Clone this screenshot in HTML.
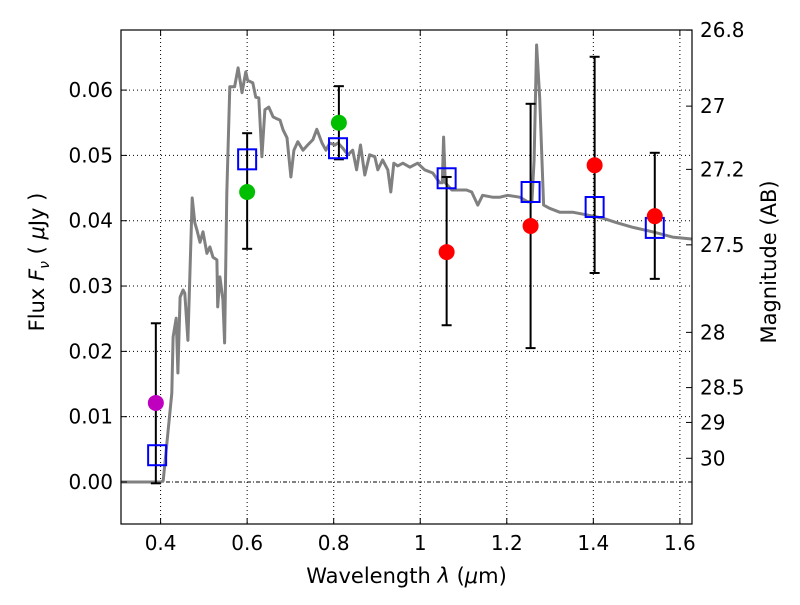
<!DOCTYPE html>
<html><head><meta charset="utf-8"><style>
body{margin:0;background:#fff;}
svg text{font-family:"DejaVu Sans","Liberation Sans",sans-serif;fill:#000;}
</style></head><body>
<svg id="chart" width="800" height="600" xmlns="http://www.w3.org/2000/svg">
<g id="grid"></g>
<g id="spec"></g>
<g id="marks"></g>
<g id="axes"></g>
</svg>
<script>
const xTicks = [0.4,0.6,0.8,1.0,1.2,1.4,1.6];
const xTickLabels = ["0.4","0.6","0.8","1","1.2","1.4","1.6"];
const yTicks = [0,0.01,0.02,0.03,0.04,0.05,0.06];
const yTickLabels = ["0.00","0.01","0.02","0.03","0.04","0.05","0.06"];
const magTicks = [26.8,27,27.2,27.5,28,28.5,29,30];
const magTickLabels = ["26.8","27","27.2","27.5","28","28.5","29","30"];
const specWave = [0.309,0.401,0.406,0.426,0.429,0.436,0.440,0.445,0.452,0.456,0.463,0.473,0.479,0.484,0.491,0.498,0.507,0.514,0.521,0.530,0.532,0.537,0.544,0.548,0.553,0.560,0.571,0.579,0.588,0.597,0.601,0.613,0.620,0.627,0.634,0.641,0.650,0.660,0.666,0.676,0.683,0.692,0.701,0.708,0.717,0.729,0.740,0.752,0.761,0.773,0.782,0.791,0.803,0.810,0.821,0.833,0.844,0.853,0.862,0.872,0.883,0.895,0.902,0.913,0.925,0.932,0.939,0.948,0.960,0.976,0.994,1.010,1.029,1.045,1.051,1.054,1.058,1.073,1.084,1.107,1.119,1.133,1.144,1.167,1.184,1.202,1.230,1.248,1.258,1.263,1.269,1.276,1.285,1.299,1.322,1.352,1.384,1.421,1.454,1.491,1.537,1.583,1.627];
const specFlux = [0,0,0.0002,0.0136,0.0222,0.0251,0.0167,0.0283,0.0294,0.0289,0.0217,0.0435,0.0397,0.0386,0.0367,0.0383,0.0350,0.0360,0.0344,0.0340,0.0268,0.0314,0.0279,0.0213,0.0442,0.0605,0.0605,0.0634,0.0596,0.0628,0.0615,0.0611,0.0589,0.0588,0.0498,0.0570,0.0574,0.0559,0.0557,0.0554,0.0539,0.0527,0.0467,0.0508,0.0521,0.0508,0.0516,0.0524,0.0540,0.0519,0.0508,0.0519,0.0516,0.0519,0.0511,0.0501,0.0508,0.0478,0.0516,0.0470,0.0501,0.0498,0.0478,0.0493,0.0478,0.0444,0.0488,0.0484,0.0488,0.0482,0.0488,0.0478,0.0473,0.0458,0.0458,0.0528,0.0458,0.0447,0.0447,0.0447,0.0444,0.0424,0.0439,0.0436,0.0436,0.0439,0.0436,0.0429,0.0429,0.0493,0.0669,0.0588,0.0424,0.0419,0.0413,0.0413,0.0409,0.0404,0.0397,0.0390,0.0383,0.0375,0.0372];
const obsWave = [0.389,0.600,0.812,1.061,1.255,1.403,1.542];
const obsFlux = [0.0121,0.0444,0.0550,0.0352,0.0392,0.0485,0.0407];
const obsErrHi = [0.0243,0.0534,0.0606,0.0467,0.0579,0.0651,0.0504];
const obsErrLo = [-0.0002,0.0357,0.0494,0.0240,0.0205,0.0320,0.0311];
const obsColor = ["#bf00bf","#00bf00","#00bf00","#ff0000","#ff0000","#ff0000","#ff0000"];
const modelWave = [0.392,0.600,0.810,1.061,1.255,1.403,1.542];
const modelFlux = [0.0041,0.0494,0.0511,0.0465,0.0444,0.0421,0.0389];

const L=121,R=692,T=30,B=524;
const xMin=0.3085,xMax=1.628,yMin=-0.00643,yMax=0.0692;
const X=v=>L+(v-xMin)/(xMax-xMin)*(R-L);
const Y=v=>B-(v-yMin)/(yMax-yMin)*(B-T);
const NS="http://www.w3.org/2000/svg";
function mk(tag,attrs,parent,txt){const e=document.createElementNS(NS,tag);for(const k in attrs)e.setAttribute(k,attrs[k]);if(txt!==undefined)e.textContent=txt;parent.appendChild(e);return e;}
const grid=document.getElementById('grid'),spec=document.getElementById('spec'),marks=document.getElementById('marks'),axes=document.getElementById('axes');

xTicks.forEach((t,i)=>{
  const g=mk('line',{x1:X(t),x2:X(t),y1:T,y2:B,stroke:'#000','stroke-width':1,'stroke-dasharray':'1,3'},grid);
  
  
  mk('line',{x1:X(t),x2:X(t),y1:B,y2:B-6,stroke:'#000'},axes);
  mk('line',{x1:X(t),x2:X(t),y1:T,y2:T+6,stroke:'#000'},axes);
  const lb=mk('text',{x:X(t),y:B+26,'text-anchor':'middle','font-size':20},axes,xTickLabels[i]);
  
  
});
yTicks.forEach((t,i)=>{
  const g=mk('line',{x1:L,x2:R,y1:Y(t),y2:Y(t),stroke:'#000','stroke-width':1,'stroke-dasharray':t===0?'4,2,1,2':'1,3'},grid);
  
  
  mk('line',{x1:L,x2:L+6,y1:Y(t),y2:Y(t),stroke:'#000'},axes);
  const lb=mk('text',{x:L-8,y:Y(t)+7,'text-anchor':'end','font-size':20},axes,yTickLabels[i]);
  
  
});
magTicks.forEach((m,i)=>{
  const f=Math.pow(10,-0.4*(m-23.9));
  mk('line',{x1:R,x2:R-6,y1:Y(f),y2:Y(f),stroke:'#000'},axes);
  const lb=mk('text',{x:R+8,y:Y(f)+7,'text-anchor':'start','font-size':20},axes,magTickLabels[i]);
  
  
});

const pts=specWave.map((w,i)=>X(w).toFixed(1)+','+Y(specFlux[i]).toFixed(1)).join(' ');
const pl=mk('polyline',{points:pts,fill:'none',stroke:'#808080','stroke-width':3,'stroke-linejoin':'round'},spec);



obsWave.forEach((w,i)=>{
  const x=X(w);
  const e=mk('line',{x1:x,x2:x,y1:Y(obsErrHi[i]),y2:Y(obsErrLo[i]),stroke:'#000','stroke-width':2},marks);
  
  
  mk('line',{x1:x-5,x2:x+5,y1:Y(obsErrHi[i]),y2:Y(obsErrHi[i]),stroke:'#000','stroke-width':2},marks);
  mk('line',{x1:x-5,x2:x+5,y1:Y(obsErrLo[i]),y2:Y(obsErrLo[i]),stroke:'#000','stroke-width':2},marks);
});
modelWave.forEach((w,i)=>{
  const s=mk('rect',{x:X(w)-9,y:Y(modelFlux[i])-10,width:18,height:20,fill:'none',stroke:'#0000ff','stroke-width':2},marks);
  
  
});
obsWave.forEach((w,i)=>{
  const c=mk('circle',{cx:X(w),cy:Y(obsFlux[i]),r:8,fill:obsColor[i]},marks);
  
  
});

const fr=mk('rect',{x:L,y:T,width:R-L,height:B-T,fill:'none',stroke:'#000','stroke-width':1.2},axes);


const xl=mk('text',{x:(L+R)/2,y:583,'text-anchor':'middle','font-size':21},axes);


xl.innerHTML='Wavelength  <tspan font-style="italic">λ</tspan> (<tspan font-style="italic">μ</tspan>m)';
const yl=mk('text',{x:0,y:0,'text-anchor':'middle','font-size':21,transform:'translate(44,262) rotate(-90)'},axes);


yl.innerHTML='Flux  <tspan font-style="italic">F</tspan><tspan font-style="italic" font-size="14" dy="5">ν</tspan><tspan dy="-5">  ( </tspan><tspan font-style="italic">μ</tspan>Jy )';
const rl=mk('text',{x:0,y:0,'text-anchor':'middle','font-size':21,transform:'translate(776,262) rotate(-90)'},axes,'Magnitude (AB)');


</script>
</body></html>
